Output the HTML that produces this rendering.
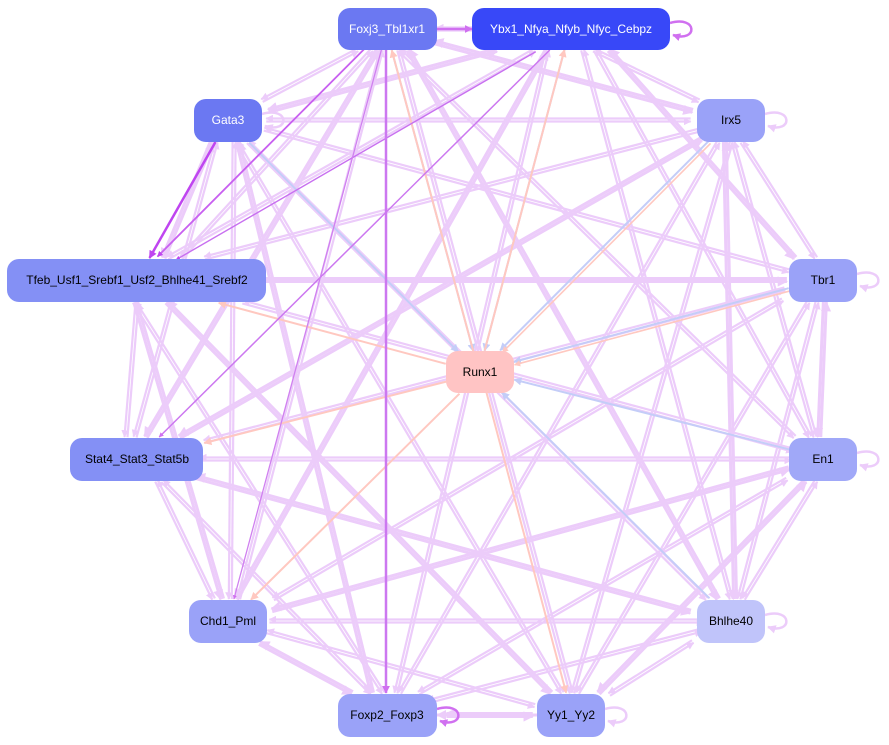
<!DOCTYPE html>
<html><head><meta charset="utf-8"><style>
html,body{margin:0;padding:0;background:#fff;width:889px;height:745px;overflow:hidden}
svg{display:block}
text{font-family:"Liberation Sans",sans-serif;font-size:12px;text-anchor:middle;dominant-baseline:central}
</style></head><body>
<svg id="s" width="889" height="745" xmlns="http://www.w3.org/2000/svg">
<defs>
<marker id="mL" viewBox="0 0 10 10" refX="9" refY="5" markerWidth="3.4" markerHeight="3.4" orient="auto" markerUnits="strokeWidth"><path d="M0,0L10,5L0,10z" fill="#ecccfa"/></marker>
<marker id="mD" viewBox="0 0 10 10" refX="9" refY="5" markerWidth="3.2" markerHeight="3.2" orient="auto" markerUnits="strokeWidth"><path d="M0,0L10,5L0,10z" fill="#bf45f0"/></marker>
<marker id="mM" viewBox="0 0 10 10" refX="9" refY="5" markerWidth="3.2" markerHeight="3.2" orient="auto" markerUnits="strokeWidth"><path d="M0,0L10,5L0,10z" fill="#d070f0"/></marker>
<marker id="mB" viewBox="0 0 10 10" refX="9" refY="5" markerWidth="4" markerHeight="4" orient="auto" markerUnits="strokeWidth"><path d="M0,0L10,5L0,10z" fill="#c4cdf8"/></marker>
<marker id="mS" viewBox="0 0 10 10" refX="9" refY="5" markerWidth="4" markerHeight="4" orient="auto" markerUnits="strokeWidth"><path d="M0,0L10,5L0,10z" fill="#ffc8c0"/></marker>
</defs>
<g id="edges"></g>
<g id="nodes">
<rect x="338" y="8" width="99" height="42" rx="12" fill="#6b78f2"/><text x="387" y="29" fill="#fff">Foxj3_Tbl1xr1</text>
<rect x="472" y="8" width="198" height="42" rx="12" fill="#3848f8"/><text x="571" y="29" fill="#fff">Ybx1_Nfya_Nfyb_Nfyc_Cebpz</text>
<rect x="194" y="99" width="68" height="43" rx="12" fill="#6b78f2"/><text x="228" y="120" fill="#fff">Gata3</text>
<rect x="697" y="99" width="68" height="43" rx="12" fill="#9aa2f8"/><text x="731" y="120" fill="#000">Irx5</text>
<rect x="7" y="259" width="259" height="43" rx="12" fill="#8490f5"/><text x="137" y="280" fill="#000">Tfeb_Usf1_Srebf1_Usf2_Bhlhe41_Srebf2</text>
<rect x="789" y="259" width="68" height="43" rx="12" fill="#9aa2f8"/><text x="823" y="280" fill="#000">Tbr1</text>
<rect x="446" y="351" width="68" height="42" rx="12" fill="#ffc4c4"/><text x="480" y="372" fill="#000">Runx1</text>
<rect x="70" y="438" width="133" height="43" rx="12" fill="#8490f5"/><text x="137" y="459" fill="#000">Stat4_Stat3_Stat5b</text>
<rect x="789" y="438" width="68" height="43" rx="12" fill="#a0a8f8"/><text x="823" y="459" fill="#000">En1</text>
<rect x="189" y="600" width="78" height="43" rx="12" fill="#9aa2f8"/><text x="228" y="621" fill="#000">Chd1_Pml</text>
<rect x="697" y="600" width="68" height="43" rx="12" fill="#c0c4fa"/><text x="731" y="621" fill="#000">Bhlhe40</text>
<rect x="338" y="694" width="99" height="43" rx="12" fill="#9aa2f8"/><text x="387" y="715" fill="#000">Foxp2_Foxp3</text>
<rect x="537" y="694" width="68" height="43" rx="12" fill="#9aa2f8"/><text x="571" y="715" fill="#000">Yy1_Yy2</text>
</g>
</svg>
<script>
var N={F:[387,29,50,21],Y:[571,29,99,21],G:[228,120,34,22],I:[731,120,34,22],T:[137,280,130,22],B:[823,280,34,22],R:[480,372,34,21],S:[137,459,67,22],E:[823,459,34,22],C:[228,621,39,22],H:[731,621,34,22],P:[387,715,50,22],Q:[571,715,34,22]};
function clip(a,b,j){var n=N[b],cx=n[0]+(j||0)*n[2]*0.5,dx=N[a][0]-cx,dy=N[a][1]-n[1];var t=Math.min(Math.abs(dx)>0?n[2]/Math.abs(dx):1e9,Math.abs(dy)>0?n[3]/Math.abs(dy):1e9);return[cx+dx*t,n[1]+dy*t];}
var g=document.getElementById('edges'),ns='http://www.w3.org/2000/svg';
function line(a,b,col,w,m,off,j1,j2){var p=clip(b,a,j1),q=clip(a,b,j2);off=off||0;var dx=q[0]-p[0],dy=q[1]-p[1],L=Math.hypot(dx,dy),ox=-dy/L*off,oy=dx/L*off;var l=document.createElementNS(ns,'line');l.setAttribute('x1',p[0]+ox);l.setAttribute('y1',p[1]+oy);l.setAttribute('x2',q[0]+ox);l.setAttribute('y2',q[1]+oy);l.setAttribute('stroke',col);l.setAttribute('stroke-width',w);l.setAttribute('marker-end','url(#'+m+')');g.appendChild(l);}
var outer=['F','Y','G','I','T','B','S','E','C','H','P','Q'];
for(var i=0;i<outer.length;i++)for(var j=0;j<outer.length;j++){if(i==j)continue;var a=outer[i],b=outer[j];if((i*7+j*3)%5==0)continue;var j1=((i*5+j*3)%7-3)/8,j2=((i*3+j*5)%7-3)/8;line(a,b,'#ecccfa',(i+j)%3==0?3:2.2,'mL',1.5,j1,j2);}
['I','B','E','H','G','F','Y'].forEach(function(k){line(k,'R','#c4cdf8',2,'mB',1);});
['T','S','C','Q','F','Y'].forEach(function(k){line('R',k,'#ffc8c0',2,'mS',-1);});
line('I','R','#ffc8c0',1.6,'mS',-2);line('B','R','#ffc8c0',1.6,'mS',-2);
line('G','T','#bf45f0',2.5,'mD',0);line('F','T','#c860f0',1.8,'mD',2);line('Y','T','#c870f0',1.4,'mD',-2);
line('F','P','#cc78f0',2.5,'mM',1);line('Y','S','#cc78f0',1.5,'mM',0);line('F','C','#d080f0',1.3,'mM',0);
line('Q','P','#ecccfa',3,'mL',0);line('F','Y','#d070f0',2.5,'mM',0);
function loop(x,y,col){var p=document.createElementNS(ns,'path');p.setAttribute('d','M'+x+','+(y-6)+' C'+(x+28)+','+(y-14)+' '+(x+28)+','+(y+14)+' '+(x+3)+','+(y+6));p.setAttribute('fill','none');p.setAttribute('stroke',col);p.setAttribute('stroke-width',2.5);p.setAttribute('marker-end','url(#'+(col=='#ecccfa'?'mL':'mM')+')');g.appendChild(p);}
loop(670,29,'#d070f0');loop(765,120,'#ecccfa');loop(857,280,'#ecccfa');loop(857,459,'#ecccfa');loop(765,621,'#ecccfa');loop(605,715,'#ecccfa');loop(437,715,'#d070f0');loop(262,120,'#ecccfa');
</script>
</body></html>
